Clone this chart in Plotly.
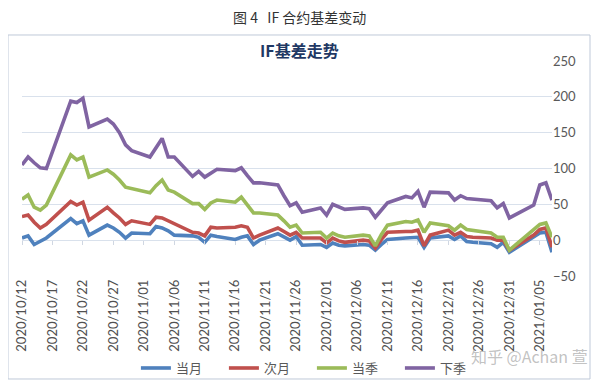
import plotly.graph_objects as go

dates = [
    "2020-10-12", "2020-10-13", "2020-10-14", "2020-10-15", "2020-10-16",
    "2020-10-20", "2020-10-21", "2020-10-22", "2020-10-23",
    "2020-10-26", "2020-10-27", "2020-10-28", "2020-10-29", "2020-10-30",
    "2020-11-02", "2020-11-03", "2020-11-04", "2020-11-05", "2020-11-06",
    "2020-11-09", "2020-11-10", "2020-11-11", "2020-11-12", "2020-11-13",
    "2020-11-16", "2020-11-17", "2020-11-18", "2020-11-19", "2020-11-20",
    "2020-11-23", "2020-11-24", "2020-11-25", "2020-11-26", "2020-11-27",
    "2020-11-30", "2020-12-01", "2020-12-02", "2020-12-03", "2020-12-04",
    "2020-12-07", "2020-12-08", "2020-12-09", "2020-12-10", "2020-12-11",
    "2020-12-14", "2020-12-15", "2020-12-16", "2020-12-17", "2020-12-18",
    "2020-12-21", "2020-12-22", "2020-12-23", "2020-12-24", "2020-12-25",
    "2020-12-28", "2020-12-29", "2020-12-30", "2020-12-31",
    "2021-01-04", "2021-01-05", "2021-01-06", "2021-01-07",
]

# 当月 (blue)
dangyue = [
    3, 6, -6, -2, 3,
    30, 23, 27, 7,
    21, 17, 11, 3, 10,
    9, 19, 17, 13, 7,
    6, 4, -3, 7, 5,
    1, 4, 6, -6, 0,
    9, 5, 0, 5, -7,
    -6, -10, -4, -7, -8,
    -6, -7, -14, -6, 1,
    3, 3, 4, -10, 3,
    6, 1, 6, -2, -3,
    -5, -10, -3, -17,
    4, 10, 11, -17,
]

# 次月 (red)
ciyue = [
    33, 35, 25, 17, 22,
    54, 49, 53, 28,
    46, 38, 31, 22, 27,
    22, 32, 31, 27, 22,
    11, 10, 6, 18, 17,
    18, 20, 18, 3, 7,
    17, 12, 7, 11, 3,
    3, -4, 3, -1, -3,
    0, -1, -11, 1, 11,
    12, 12, 14, -8, 7,
    14, 7, 11, 5, 4,
    3, 0, 0, -14,
    7, 15, 17, -10,
]

# 当季 (green)
dangji = [
    57, 63, 46, 42, 49,
    119, 112, 116, 88,
    98, 92, 84, 74, 72,
    66, 76, 84, 70, 67,
    51, 51, 43, 52, 56,
    53, 60, 49, 38, 38,
    35, 27, 18, 21, 10,
    11, 3, 10, 6, 4,
    7, 6, -8, 8, 21,
    26, 25, 28, 11, 24,
    20, 14, 21, 15, 14,
    10, 4, 4, -14,
    14, 22, 24, 4,
]

# 下季 (purple)
xiaji = [
    105, 116, 108, 101, 100,
    194, 192, 198, 158,
    169, 162, 150, 133, 125,
    116, 130, 142, 116, 116,
    89, 96, 88, 94, 99,
    97, 101, 90, 80, 80,
    77, 62, 48, 52, 39,
    45, 35, 50, 46, 43,
    45, 44, 32, 43, 52,
    61, 59, 68, 46, 67,
    66, 56, 62, 58, 57,
    55, 45, 51, 31,
    49, 77, 80, 56,
]

series_names = ["当月", "次月", "当季", "下季"]
series_colors = ["#4F81BD", "#C0504D", "#9BBB59", "#8064A2"]

tick_dates = [
    "2020-10-12", "2020-10-17", "2020-10-22", "2020-10-27", "2020-11-01",
    "2020-11-06", "2020-11-11", "2020-11-16", "2020-11-21", "2020-11-26",
    "2020-12-01", "2020-12-06", "2020-12-11", "2020-12-16", "2020-12-21",
    "2020-12-26", "2020-12-31", "2021-01-05",
]
tick_labels = [d.replace("-", "/") for d in tick_dates]
y_ticks = [-50, 0, 50, 100, 150, 200, 250]

fig = go.Figure()
for name, vals, col in zip(series_names, [dangyue, ciyue, dangji, xiaji], series_colors):
    fig.add_trace(go.Scatter(
        x=dates, y=vals, name=name, mode="lines",
        line=dict(color=col, width=3.6),
    ))

# helper trace for the tick marks on the zero-crossing axis
fig.add_trace(go.Scatter(x=[dates[0]], y=[dangyue[0]], xaxis="x2", mode="none",
                         showlegend=False, hoverinfo="skip"))

grid = "#D9E1EC"
cjk = "Noto Sans CJK SC"
# the page body has an 8px margin, so the figure is 8px smaller than the window
fig.update_layout(
    width=592, height=377,
    margin=dict(l=14, r=48, t=53, b=109, autoexpand=False),
    paper_bgcolor="white", plot_bgcolor="white",
    font=dict(family="Lato, " + cjk, color="#595959"),
    xaxis=dict(
        type="date", range=["2020-10-12", "2021-01-07"],
        tickvals=tick_dates, ticktext=tick_labels, tickangle=-90,
        showgrid=False, showline=False, zeroline=False, ticks="",
        automargin=False,
        tickfont=dict(size=13, color="#505050", family="Lato"),
    ),
    xaxis2=dict(
        type="date", range=["2020-10-12", "2021-01-07"], overlaying="x",
        anchor="free", position=1 / 6, side="bottom",
        tickvals=tick_dates, ticks="outside", ticklen=4, tickcolor="#D0D7E2",
        showticklabels=False, showgrid=False, showline=False, zeroline=False,
    ),
    yaxis=dict(
        side="right", range=[-50, 250], tickvals=y_ticks,
        showgrid=True, gridcolor=grid, gridwidth=1,
        zeroline=False, showline=False, ticks="", automargin=False,
        tickfont=dict(size=13, color="#595959", family="Lato"),
    ),
    legend=dict(
        orientation="h", x=0.547, xanchor="center",
        yref="container", y=0.045, yanchor="middle",
        font=dict(size=13, color="#595959", family=cjk),
        entrywidth=43, itemwidth=30, bgcolor="rgba(0,0,0,0)",
    ),
    shapes=[dict(
        type="rect", xref="paper", yref="paper",
        x0=-0.0264, x1=1.0717, y0=-0.479, y1=1.121,
        line=dict(color="#BFC9D9", width=1), layer="above",
    )],
    annotations=[
        dict(text="<b>IF基差走势</b>", xref="paper", yref="paper", x=0.5245, y=1.051,
             xanchor="center", yanchor="middle",
             showarrow=False, font=dict(size=16, color="#1F3864", family=cjk)),
        dict(text="图 4   IF 合约基差变动", xref="paper", yref="paper", x=0.5245, y=1.205,
             xanchor="center", yanchor="middle",
             showarrow=False, font=dict(size=14, color="#333333", family=cjk)),
        dict(text="知乎 @Achan 萱", xref="paper", yref="paper", x=0.958, y=-0.372,
             xanchor="center", yanchor="middle",
             showarrow=False, font=dict(size=16, color="rgba(160,160,160,0.65)", family=cjk)),
    ],
)

fig.write_html("out.html")
